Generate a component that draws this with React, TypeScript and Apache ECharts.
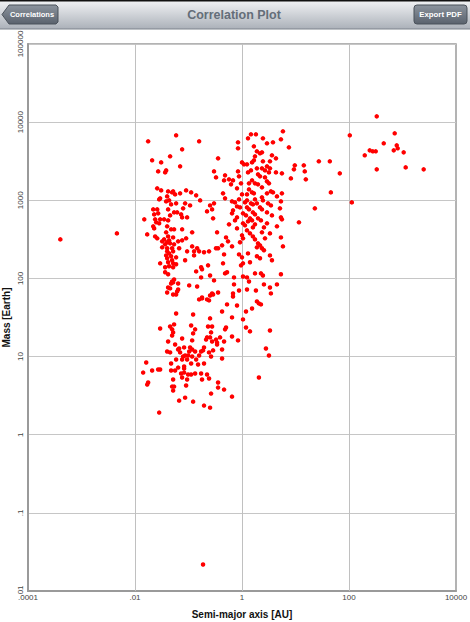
import React, { useEffect, useRef } from 'react';
import * as echarts from 'echarts';

// Tick labels (log axes)
const xTickExponents = [-4, -2, 0, 2, 4];
const xTickLabels = ['.0001', '.01', '1', '100', '10000'];
const yTickExponents = [-2, -1, 0, 1, 2, 3, 4, 5];
const yTickLabels = ['.01', '.1', '1', '10', '100', '1000', '10000', '100000'];
const xGridValues = [0.01, 1, 100];

// [semi-major axis (AU), mass (Earth)]
const shortPeriodGiants: number[][] = [
  [0.0176, 5680], [0.0587, 6780], [0.158, 5680], [0.076, 4485], [0.0453, 3650], [0.0209, 3245], [0.0308, 3055],
  [0.0697, 2717], [0.0271, 2344], [0.0382, 2414], [0.0366, 2276], [0.026, 1421], [0.0308, 1339], [0.0416, 1300],
  [0.0494, 1262], [0.0516, 1300], [0.0562, 1190], [0.0697, 1226], [0.0902, 1339], [0.112, 1262], [0.139, 1156],
  [0.0399, 1122], [0.0295, 1058], [0.0283, 1027], [0.0434, 997], [0.0382, 968], [0.165, 997], [0.0864, 913],
  [0.0587, 913], [0.0473, 886], [0.107, 860], [0.0219, 765], [0.026, 765], [0.0416, 765], [0.0793, 788],
  [0.0538, 700], [0.0613, 700], [0.0728, 660], [0.0271, 680], [0.0228, 660], [0.0453, 641], [0.0942, 604],
  [0.076, 604], [0.0295, 570], [0.0238, 570], [0.035, 570], [0.0149, 570], [0.0416, 553], [0.0249, 522],
  [0.0283, 507], [0.0399, 464], [0.0219, 464], [0.0228, 437], [0.0473, 425], [0.0538, 425], [0.076, 425],
  [0.117, 389], [0.0382, 389], [0.0169, 366], [0.0238, 345], [0.026, 326], [0.0416, 345], [0.0516, 335],
  [0.0902, 326], [0.035, 316], [0.0434, 307], [0.064, 298], [0.076, 307], [0.0322, 298], [0.0399, 290],
  [0.0366, 273], [0.0453, 281], [0.0538, 273], [0.117, 257], [0.0322, 250], [0.0399, 243], [0.145, 243],
  [0.0494, 243], [0.0668, 243], [0.0942, 222], [0.0399, 222], [0.0434, 209], [0.0516, 222], [0.127, 222],
  [0.158, 222], [0.0382, 197], [0.0473, 192], [0.127, 197], [0.195, 216], [0.0587, 186], [0.0399, 181],
  [0.0494, 171], [0.0864, 171], [0.0295, 156], [0.0416, 161], [0.0516, 156], [0.0366, 139], [0.0434, 143],
  [0.0516, 139], [0.0587, 152], [0.139, 123], [0.0366, 120], [0.0416, 113], [0.0538, 97], [0.172, 139], [0.172, 103],
];

const shortPeriodLowMass: number[][] = [
  [0.0494, 91.5], [0.0473, 86.3], [0.0516, 88.9], [0.064, 86.3], [0.0416, 76.7], [0.0453, 74.5], [0.064, 72.3],
  [0.0613, 68.2], [0.103, 81.4], [0.145, 79], [0.0399, 66.2], [0.0516, 62.4], [0.0587, 62.4], [0.158, 53.9],
  [0.179, 55.5], [0.0587, 35.6], [0.122, 34.6], [0.0295, 22.9], [0.0453, 24.3], [0.0538, 25.8], [0.0494, 22.3],
  [0.0516, 20.4], [0.112, 25], [0.133, 22.3], [0.0494, 18.6], [0.122, 19.8], [0.0416, 15.6], [0.076, 17],
  [0.117, 16.1], [0.0562, 14.3], [0.0668, 12.7], [0.064, 12.3], [0.0828, 13.1], [0.107, 13.1], [0.117, 12.3],
  [0.133, 11.6], [0.0399, 11.6], [0.0453, 11.3], [0.103, 11.6], [0.0697, 11.3], [0.172, 11.6], [0.187, 12],
  [0.0864, 10.3], [0.0983, 10.3], [0.117, 10], [0.0793, 10], [0.158, 10.3], [0.0587, 9.16], [0.076, 9.16],
  [0.0942, 9.16], [0.139, 9.16], [0.0162, 8.38], [0.0473, 8.14], [0.112, 8.14], [0.151, 7.9], [0.064, 7.23],
  [0.0828, 7.45], [0.0562, 6.62], [0.0828, 7.02], [0.0828, 6.24], [0.0209, 6.62], [0.0271, 6.82], [0.0295, 6.82],
  [0.0142, 6.24], [0.0473, 6.62], [0.0728, 6.06], [0.0983, 5.89], [0.112, 5.89], [0.133, 6.06], [0.076, 5.39],
  [0.0942, 5.08], [0.179, 5.08], [0.0516, 5.08], [0.0176, 4.65], [0.0169, 4.38], [0.0902, 4.26], [0.0494, 4.13],
  [0.0538, 4.13], [0.0516, 3.67], [0.0864, 2.98], [0.0668, 2.73], [0.122, 2.65], [0.195, 2.36], [0.0283, 1.92],
];

const midGiants: number[][] = [
  [5.82, 7625], [1.47, 6980], [1.294, 6205], [1.82, 6980], [2.46, 6205], [5.34, 6025], [0.842, 5515], [2.93, 5355],
  [3.79, 5515], [7.53, 4755], [1.67, 4900], [0.842, 4620], [1.9, 4230], [2.17, 3990], [2.36, 4105], [1.75, 3650],
  [3.63, 3760], [4.31, 3440], [0.357, 3440], [2.46, 3150], [1.54, 3055], [1.67, 3245], [3.33, 3150], [1.0, 3055],
  [1.09, 2882], [1.24, 2882], [9.7, 2798], [2.93, 2717], [3.33, 2561], [2.36, 2561], [2.69, 2414], [1.9, 2561],
  [0.3, 2344], [1.47, 2414], [1.294, 2276], [0.842, 2344], [4.31, 2276], [5.57, 2210], [3.19, 2276], [0.482, 2084],
  [0.327, 1964], [1.99, 2146], [2.17, 2023], [0.879, 2023], [2.69, 1964], [8.2, 1907], [0.679, 1798], [0.462, 1798],
  [0.572, 1852], [1.54, 1798], [1.351, 1646], [2.93, 1746], [3.19, 1646], [0.958, 1646], [1.75, 1646], [1.99, 1599],
  [0.623, 1599], [2.36, 1463], [1.351, 1379], [0.807, 1421], [3.47, 1300], [3.79, 1262], [0.442, 1226], [1.54, 1262],
  [1.67, 1226], [2.93, 1226], [1.0, 1190], [1.24, 1190], [5.57, 1226], [4.5, 1122], [0.482, 1058], [2.36, 1090],
  [2.46, 997], [1.24, 997], [1.138, 940], [1.75, 1027], [0.651, 968], [0.74, 940], [0.879, 1027], [0.3, 913],
  [0.253, 860], [5.34, 968], [1.47, 913], [1.6, 886], [1.9, 913], [3.06, 913], [3.47, 860], [0.807, 835],
  [0.918, 811], [1.24, 811], [1.351, 765], [2.17, 811], [2.36, 765], [5.12, 788], [0.222, 721], [0.276, 765],
  [0.679, 743], [0.651, 680], [1.6, 700], [1.75, 660], [1.044, 680], [1.188, 641], [2.93, 700], [3.63, 641],
  [5.34, 604], [5.57, 570], [0.288, 587], [0.807, 604], [0.74, 553], [1.41, 587], [1.54, 553], [1.294, 537],
  [1.99, 587], [2.26, 553], [11.6, 522], [1.044, 507], [1.138, 478], [0.572, 492], [1.75, 492], [1.6, 450],
  [2.93, 507], [2.57, 450], [4.5, 464], [0.807, 437], [0.342, 389], [1.24, 412], [1.41, 377], [2.36, 389],
  [3.33, 377], [0.503, 335], [1.0, 356], [1.044, 326], [1.6, 345], [1.75, 316], [2.69, 326], [5.34, 335],
  [0.548, 298], [0.424, 265], [0.918, 290], [1.99, 281], [2.17, 265], [1.9, 250], [5.82, 257], [0.651, 257],
  [0.357, 243], [0.327, 243], [2.36, 243], [2.57, 229], [0.242, 222], [0.462, 203], [1.294, 209], [0.879, 203],
  [1.0, 186], [1.9, 192], [2.17, 181], [3.33, 197], [3.63, 171], [0.232, 147], [0.442, 156], [1.044, 156],
  [0.958, 147], [1.41, 161], [0.179, 131], [1.75, 116], [2.26, 116], [2.46, 109], [5.34, 113], [0.482, 116],
  [0.253, 109], [0.709, 103], [1.044, 106], [1.24, 103],
];

const midLowMass: number[][] = [
  [0.525, 120], [0.3, 94.3], [0.709, 83.8], [1.351, 91.5], [2.57, 83.8], [3.33, 76.7], [4.5, 83.8], [0.879, 70.2],
  [1.24, 72.3], [1.82, 70.2], [0.276, 64.3], [0.288, 62.4], [0.253, 60.6], [0.357, 66.2], [0.679, 64.3], [0.679, 58.8],
  [3.47, 64.3], [0.179, 57.1], [0.222, 53.9], [0.242, 52.3], [1.9, 50.8], [2.07, 47.9], [2.26, 46.5], [0.525, 46.5],
  [0.807, 45.1], [1.54, 41.3], [1.188, 37.8], [0.424, 37.8], [0.651, 31.7], [1.044, 29.9], [0.253, 30.8],
  [0.232, 24.3], [0.276, 24.3], [0.503, 23.6], [0.482, 22.3], [1.188, 23.6], [1.41, 21], [3.33, 21.6], [0.264, 20.4],
  [0.651, 18.1], [0.842, 16.1], [0.222, 17.6], [0.213, 16.5], [0.253, 17.6], [0.276, 15.6], [0.327, 16.5],
  [0.342, 15.1], [0.342, 14.3], [0.389, 17.6], [0.462, 15.6], [0.195, 13.1], [0.288, 12], [0.424, 12.3],
  [0.242, 11.3], [2.8, 12.7], [3.19, 10.3], [0.264, 10], [0.424, 9.43], [0.195, 8.14], [2.07, 5.39], [0.172, 6.06],
  [0.222, 5.89], [0.242, 5.23], [0.357, 4.65], [0.357, 4.01], [0.462, 3.78], [0.264, 3.36], [0.651, 3.07], [0.253, 2.22],
];

const distantGiants: number[][] = [
  [330, 11860], [103.5, 6780], [715, 7190], [446, 5355], [780, 5045], [813, 4620], [686, 4355], [1052, 4105],
  [244, 4355], [278, 4230], [316, 4230], [197, 3760], [27.3, 3150], [43.8, 3150], [14.3, 2798], [9.34, 2487],
  [14.9, 2344], [330, 2487], [1147, 2637], [2488, 2487], [67.3, 2210], [15.6, 1852], [45.8, 1262], [113, 940], [23, 788],
];

const outliers: number[][] = [
  [0.000402, 316], [0.00459, 377], [0.187, 0.0218],
];

const FONT = '"Liberation Sans", Arial, Helvetica, sans-serif';

function tickFormatter(exps: number[], labels: string[]) {
  return (v: number) => {
    const e = Math.round(Math.log10(v));
    const i = exps.indexOf(e);
    return i >= 0 ? labels[i] : '';
  };
}

const darkBtn = {
  type: 'linear', x: 0, y: 0, x2: 0, y2: 1,
  colorStops: [{ offset: 0, color: '#8c949e' }, { offset: 1, color: '#5a626d' }],
};

export default function App() {
  const ref = useRef<HTMLDivElement>(null);
  useEffect(() => {
    const chart = echarts.init(ref.current!, null, { renderer: 'svg' });
    const points = [
      ...shortPeriodGiants, ...shortPeriodLowMass, ...midGiants, ...midLowMass, ...distantGiants, ...outliers,
    ];
    chart.setOption({
      animation: false,
      backgroundColor: '#ffffff',
      grid: {
        left: 28, right: 14, top: 44, bottom: 31,
        containLabel: false, outerBoundsMode: 'none',
        show: true, borderColor: '#9a9a9a', borderWidth: 1.5, backgroundColor: 'transparent',
      },
      xAxis: {
        type: 'log', logBase: 10, min: 0.0001, max: 10000,
        name: 'Semi-major axis [AU]', nameLocation: 'middle', nameGap: 18, nameMoveOverlap: false,
        nameTextStyle: { fontFamily: FONT, fontSize: 10, fontWeight: 'bold', color: '#111' },
        axisLine: { show: true, lineStyle: { color: '#9a9a9a', width: 2 } },
        axisTick: { show: false },
        splitLine: { show: false },
        minorTick: { show: false },
        axisLabel: {
          show: true, margin: 2, fontFamily: FONT, fontSize: 8, color: '#444',
          showMinLabel: true, showMaxLabel: true,
          alignMinLabel: 'center', alignMaxLabel: 'center', hideOverlap: false,
          formatter: tickFormatter(xTickExponents, xTickLabels),
        },
      },
      yAxis: {
        type: 'log', logBase: 10, min: 0.01, max: 100000,
        name: 'Mass [Earth]', nameLocation: 'middle', nameGap: 17, nameRotate: 90, nameMoveOverlap: false,
        nameTextStyle: { fontFamily: FONT, fontSize: 10, fontWeight: 'bold', color: '#111' },
        axisLine: { show: true, lineStyle: { color: '#9a9a9a', width: 2 } },
        axisTick: { show: false },
        splitLine: { show: true, lineStyle: { color: '#c6c6c6', width: 1 } },
        axisLabel: {
          show: true, margin: 4, rotate: 90, fontFamily: FONT, fontSize: 8, color: '#444',
          showMinLabel: true, showMaxLabel: true, hideOverlap: false,
          formatter: tickFormatter(yTickExponents, yTickLabels),
        },
      },
      series: [
        {
          type: 'scatter',
          data: [],
          z: 1,
          silent: true,
          markLine: {
            silent: true,
            symbol: ['none', 'none'],
            z: 1,
            label: { show: false },
            lineStyle: { color: '#c0c0c0', width: 1, type: 'solid' },
            data: xGridValues.map((v) => ({ xAxis: v })),
          },
        },
        {
          type: 'scatter',
          z: 3,
          symbol: 'circle',
          symbolSize: 4.5,
          itemStyle: { color: '#ff0000', opacity: 1 },
          data: points,
        },
      ],
      graphic: [
        {
          type: 'rect', z: 100,
          shape: { x: 0, y: 0, width: 470, height: 29 },
          style: {
            fill: {
              type: 'linear', x: 0, y: 0, x2: 0, y2: 1,
              colorStops: [{ offset: 0, color: '#f3f4f6' }, { offset: 1, color: '#abb1b9' }],
            },
          },
        },
        { type: 'rect', z: 101, shape: { x: 0, y: 0, width: 470, height: 1.5 }, style: { fill: '#111' } },
        { type: 'line', z: 101, shape: { x1: 0, y1: 29, x2: 470, y2: 29 }, style: { stroke: '#7c838c', lineWidth: 1 } },
        {
          type: 'polygon', z: 101,
          shape: { points: [[2, 14.5], [9, 5], [56, 5], [58, 7], [58, 22], [56, 24], [9, 24]] },
          style: { fill: darkBtn, stroke: '#4b525b', lineWidth: 1 },
        },
        {
          type: 'rect', z: 101,
          shape: { x: 414, y: 5, width: 53, height: 19, r: 3 },
          style: { fill: darkBtn, stroke: '#4b525b', lineWidth: 1 },
        },
        {
          type: 'text', z: 102, x: 32, y: 14.5,
          style: { text: 'Correlations', fill: '#ffffff', font: `bold 7.5px ${FONT}`, align: 'center', verticalAlign: 'middle' },
        },
        {
          type: 'text', z: 102, x: 440.5, y: 14.5,
          style: { text: 'Export PDF', fill: '#ffffff', font: `bold 7.8px ${FONT}`, align: 'center', verticalAlign: 'middle' },
        },
        {
          type: 'text', z: 102, x: 234, y: 15,
          style: { text: 'Correlation Plot', fill: '#646e79', font: `bold 12.5px ${FONT}`, align: 'center', verticalAlign: 'middle' },
        },
      ],
    });
    return () => chart.dispose();
  }, []);
  return (
    <div
      ref={ref}
      style={{ position: 'absolute', left: 0, top: 0, width: 470, height: 622, background: '#fff' }}
    />
  );
}
